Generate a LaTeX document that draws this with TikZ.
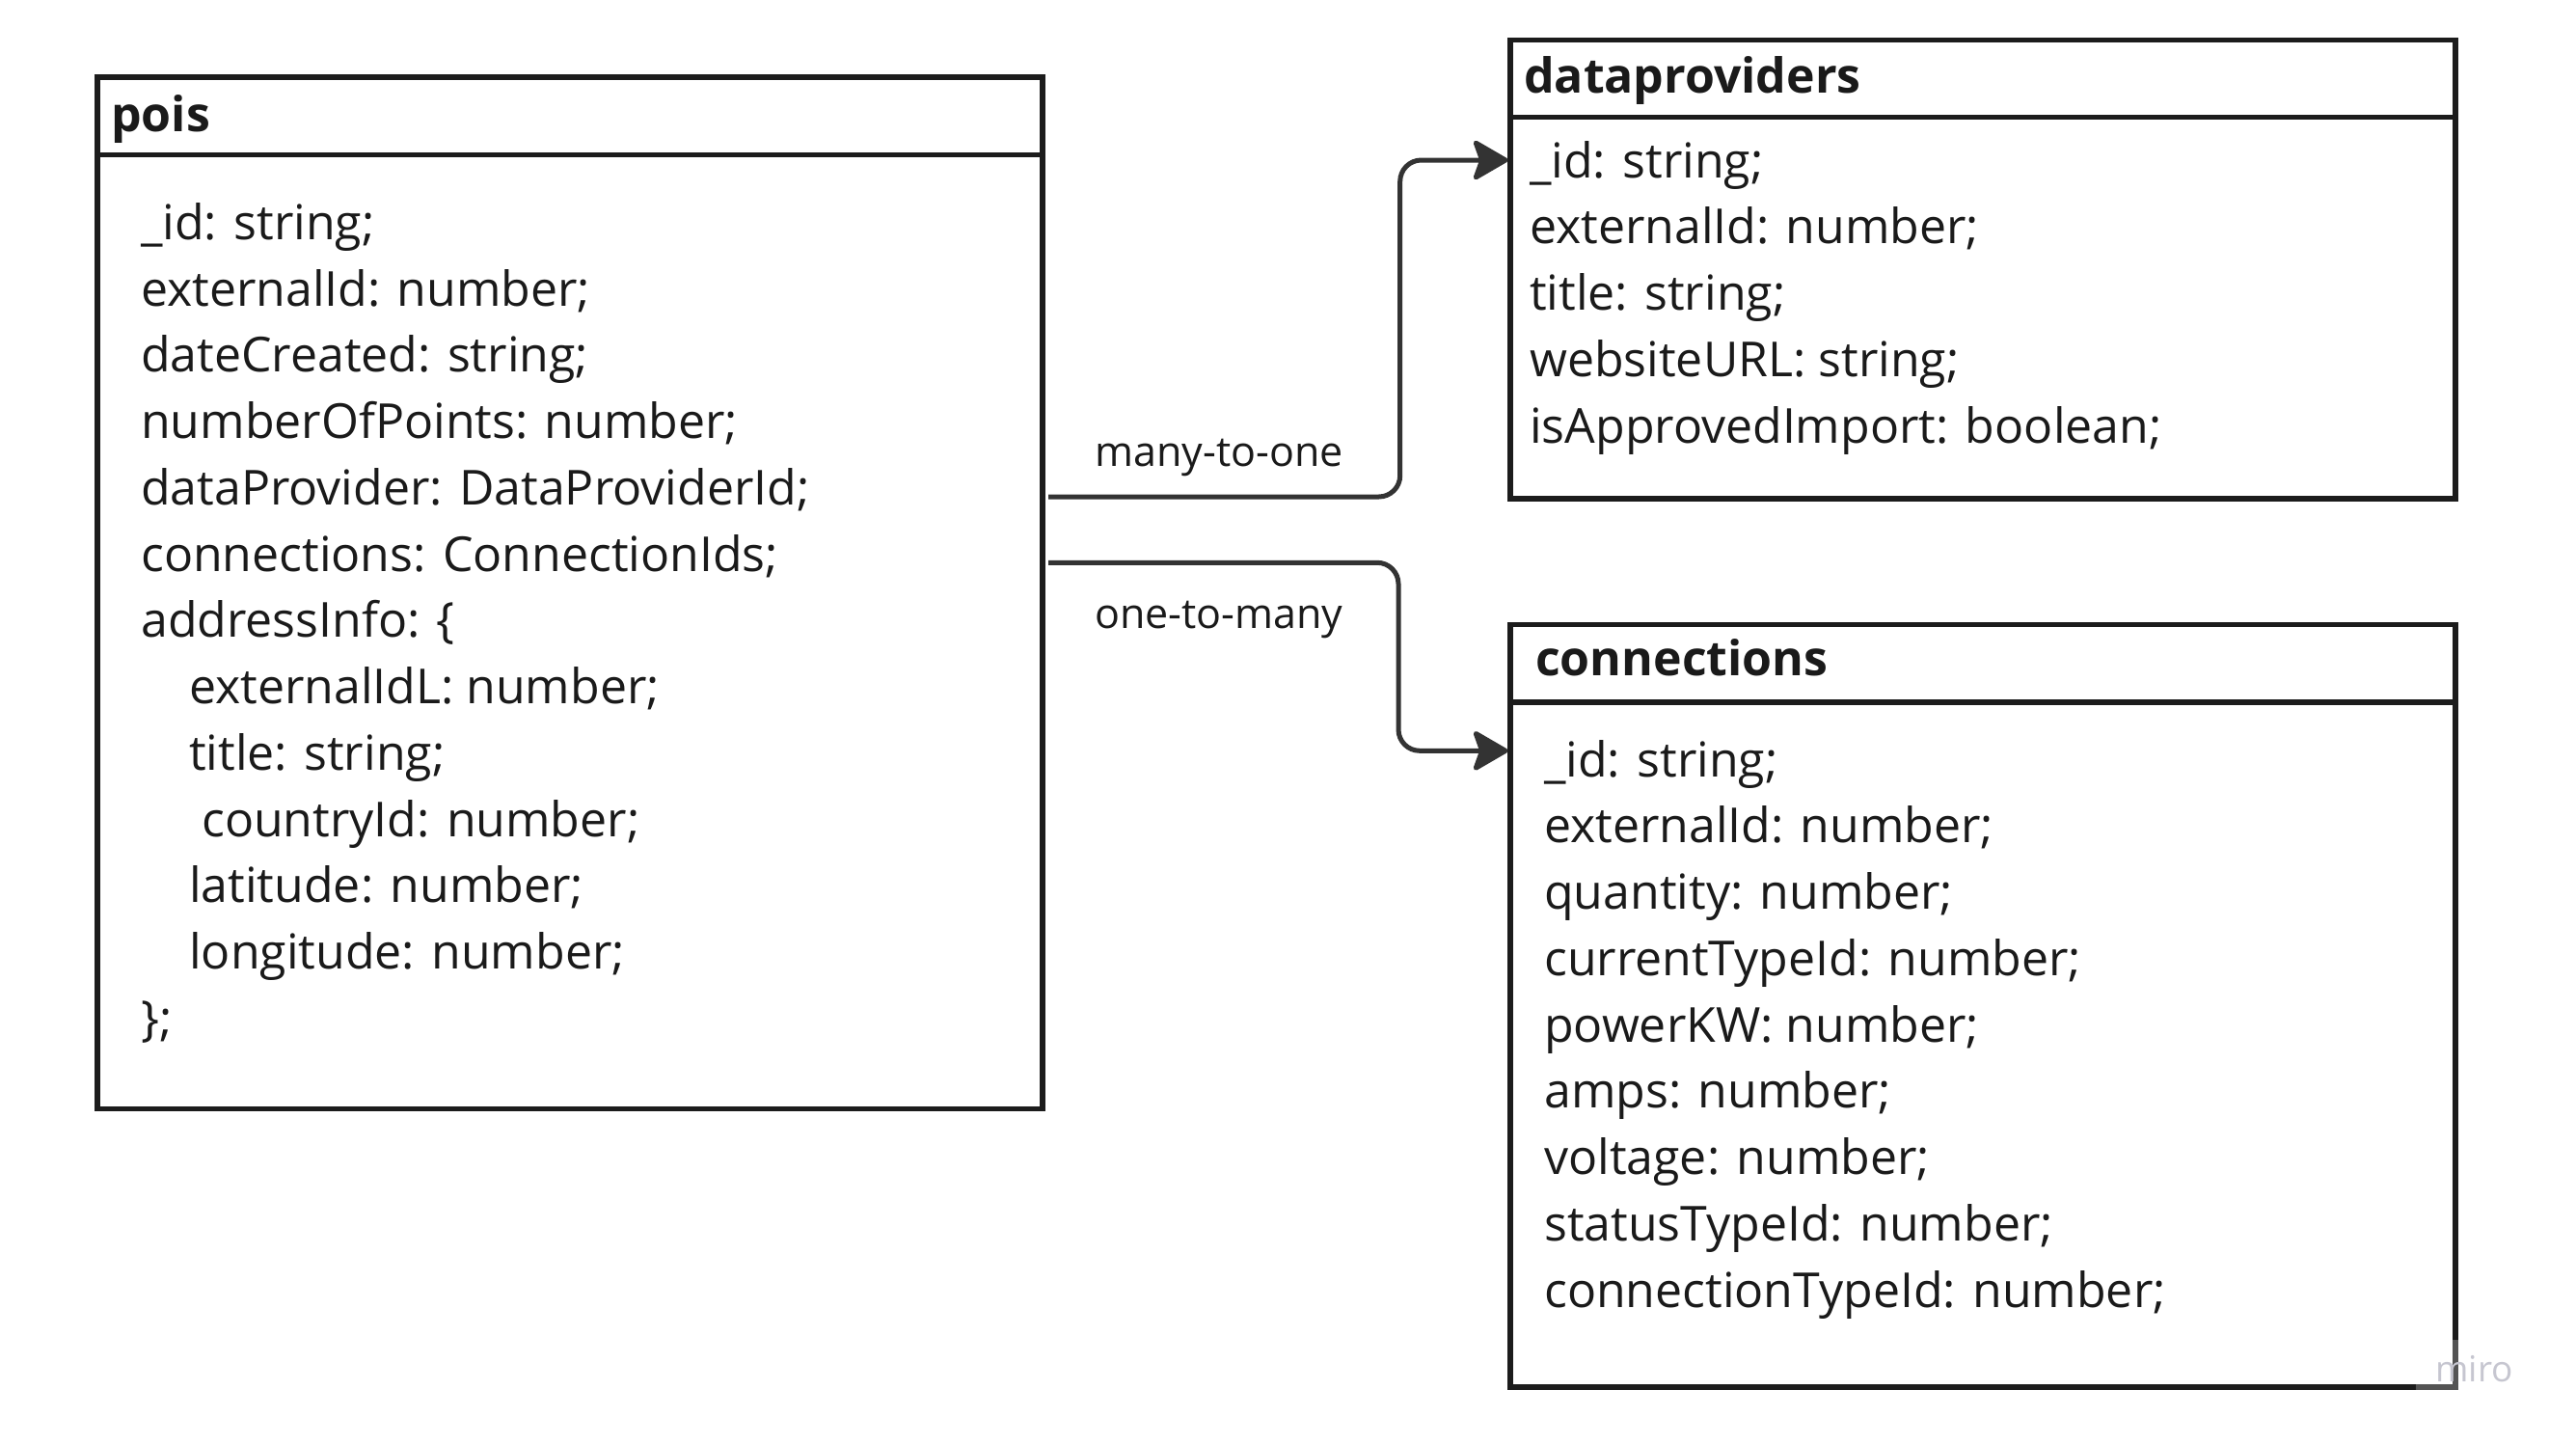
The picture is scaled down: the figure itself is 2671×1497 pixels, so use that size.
\documentclass[tikz,border=0pt]{standalone}
\usepackage{fontspec}
\setmainfont{Open Sans}
\usetikzlibrary{arrows.meta,calc}
\definecolor{boxc}{HTML}{1C1C1C}
\definecolor{linec}{HTML}{333333}
\definecolor{textc}{HTML}{1A1A1A}
\definecolor{miroc}{HTML}{C6C6D0}
\tikzset{
  tbox/.style={draw=boxc, line width=5.5pt, inner sep=0pt, outer sep=0pt, fill=white},
  divider/.style={draw=boxc, line width=5.5pt},
  hdr/.style={anchor=base west, inner sep=0pt, text=textc, font=\fontsize{50pt}{60pt}\selectfont\bfseries},
  body/.style={anchor=base west, inner sep=0pt, text=textc, font=\fontsize{50pt}{60pt}\selectfont},
  lbl/.style={anchor=base west, inner sep=0pt, text=textc, font=\fontsize{43pt}{50pt}\selectfont},
  connector/.style={draw=linec, line width=5pt, rounded corners=22pt,
    -{Stealth[length=40pt, width=46pt, inset=8pt, round]}}
}
\begin{document}
\begin{tikzpicture}[x=1pt, y=-1pt]
\useasboundingbox (0,0) rectangle (2671,1497);
\fill[white] (0,0) rectangle (2671,1497);

% boxes
\node[tbox, minimum width=980pt, minimum height=1069.5pt] (pois) at (591,614.75) {};
\node[tbox, minimum width=980pt, minimum height=475.5pt] (dataproviders) at (2056,279.25) {};
\node[tbox, minimum width=980pt, minimum height=790.5pt] (connections) at (2056,1042.75) {};

\draw[divider] ($(pois.north west)+(0,80.5)$) -- ($(pois.north east)+(0,80.5)$);
\draw[divider] ($(dataproviders.north west)+(0,80.2)$) -- ($(dataproviders.north east)+(0,80.2)$);
\draw[divider] ($(connections.north west)+(0,80.5)$) -- ($(connections.north east)+(0,80.5)$);

% headers
\node[hdr] (poish) at (115,136.7) {pois};
\node[hdr] (dph) at (1580,96) {dataproviders};
\node[hdr] (connh) at (1592,700.7) {connections};

% pois body
\foreach \dx/\t [count=\i from 0] in {
  0/{\_id: string;},
  0/{externalId: number;},
  0/{dateCreated: string;},
  0/{numberOfPoints: number;},
  0/{dataProvider: DataProviderId;},
  0/{connections: ConnectionIds;},
  0/{addressInfo: \{},
  50/{externalIdL: number;},
  50/{title: string;},
  63/{countryId: number;},
  50/{latitude: number;},
  50/{longitude: number;},
  0/{\};}}
{ \node[body] (pois-\i) at ({146+\dx},{248.3+\i*68.75}) {\t}; }

% dataproviders body
\foreach \t [count=\i from 0] in {
  {\_id: string;},
  {externalId: number;},
  {title: string;},
  {websiteURL: string;},
  {isApprovedImport: boolean;}}
{ \node[body] (dp-\i) at (1586,{184+\i*68.8}) {\t}; }

% connections body
\foreach \t [count=\i from 0] in {
  {\_id: string;},
  {externalId: number;},
  {quantity: number;},
  {currentTypeId: number;},
  {powerKW: number;},
  {amps: number;},
  {voltage: number;},
  {statusTypeId: number;},
  {connectionTypeId: number;}}
{ \node[body] (conn-\i) at (1601,{805+\i*68.75}) {\t}; }

% connectors
\coordinate (m2omid) at (1451.7,340);
\coordinate (o2mmid) at (1450,680);
\draw[connector] ($(pois.north east)+(6,435)$) -| (m2omid) |- ($(dataproviders.north west)+(-2.5,124.5)$);
\draw[connector] ($(pois.north east)+(6,503.3)$) -| (o2mmid) |- ($(connections.north west)+(-2.5,130.8)$);

\node[lbl] (m2o) at (1135,483.3) {many-to-one};
\node[lbl] (o2m) at (1135,651.7) {one-to-many};

% watermark
\fill[white, opacity=0.25] (2505,1389) rectangle (2615,1450);
\node[anchor=base west, inner sep=0pt, text=miroc, font=\fontsize{37pt}{40pt}\selectfont] (miro) at (2525,1432) {miro};
\end{tikzpicture}
\end{document}
